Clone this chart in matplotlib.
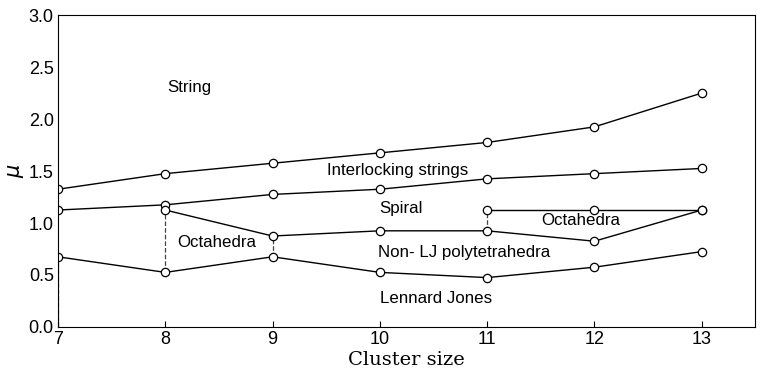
import matplotlib
matplotlib.use("Agg")
import matplotlib.pyplot as plt

# --- Phase boundary data ---
sizes = [7, 8, 9, 10, 11, 12, 13]
string_upper = [1.325, 1.475, 1.575, 1.675, 1.775, 1.925, 2.25]
interlocking = [1.125, 1.175, 1.275, 1.325, 1.425, 1.475, 1.525]
spiral_lower_x = [8, 9, 10, 11, 12, 13]
spiral_lower = [1.125, 0.875, 0.925, 0.925, 0.825, 1.125]
octa_upper_x = [11, 12, 13]
octa_upper = [1.125, 1.125, 1.125]
lennard_jones = [0.675, 0.525, 0.675, 0.525, 0.475, 0.575, 0.725]

# dashed vertical separators: (x, y_low, y_high)
dashed_x = [7, 8, 9, 11]
dashed_lo = [0.0, 0.525, 0.675, 0.925]
dashed_hi = [0.675, 1.125, 0.875, 1.125]

region_labels = ["String", "Interlocking strings", "Spiral", "Octahedra",
                 "Octahedra", "Non- LJ polytetrahedra", "Lennard Jones"]
label_x = [8.22, 10.17, 10.2, 8.48, 11.87, 10.79, 10.52]
label_y = [2.3, 1.51, 1.14, 0.81, 1.02, 0.72, 0.27]

fig, ax = plt.subplots(figsize=(7.63, 3.78), dpi=100)
fig.subplots_adjust(left=0.076, right=0.99, top=0.96, bottom=0.135)

for x, lo, hi in zip(dashed_x, dashed_lo, dashed_hi):
    ax.plot([x, x], [lo, hi], ls="--", color="#444444", lw=0.9, zorder=1)

line_kw = dict(color="black", lw=1.0, marker="o", ms=6, mfc="white",
               mec="black", mew=0.9, zorder=2)
ax.plot(sizes, string_upper, **line_kw)
ax.plot(sizes, interlocking, **line_kw)
ax.plot(spiral_lower_x, spiral_lower, **line_kw)
ax.plot(octa_upper_x, octa_upper, **line_kw)
ax.plot(sizes, lennard_jones, **line_kw)

for t, x, y in zip(region_labels, label_x, label_y):
    ax.text(x, y, t, ha="center", va="center", fontsize=12.2,
            family="Liberation Sans")

ax.set_xlim(7, 13.5)
ax.set_ylim(0, 3)
ax.set_xticks(sizes)
ax.set_yticks([0, 0.5, 1.0, 1.5, 2.0, 2.5, 3.0])
ax.set_yticklabels(["0.0", "0.5", "1.0", "1.5", "2.0", "2.5", "3.0"])
ax.tick_params(direction="in", labelsize=13)
ax.tick_params(axis="x", length=4, pad=3)
ax.tick_params(axis="y", length=0, pad=3)
for lab in ax.get_xticklabels() + ax.get_yticklabels():
    lab.set_family("Liberation Sans")
ax.set_xlabel("Cluster size", family="DejaVu Serif", fontsize=14, labelpad=2)
ax.set_ylabel(r"$\mu$", fontsize=15, labelpad=2)

fig.savefig("out.png", dpi=100)
